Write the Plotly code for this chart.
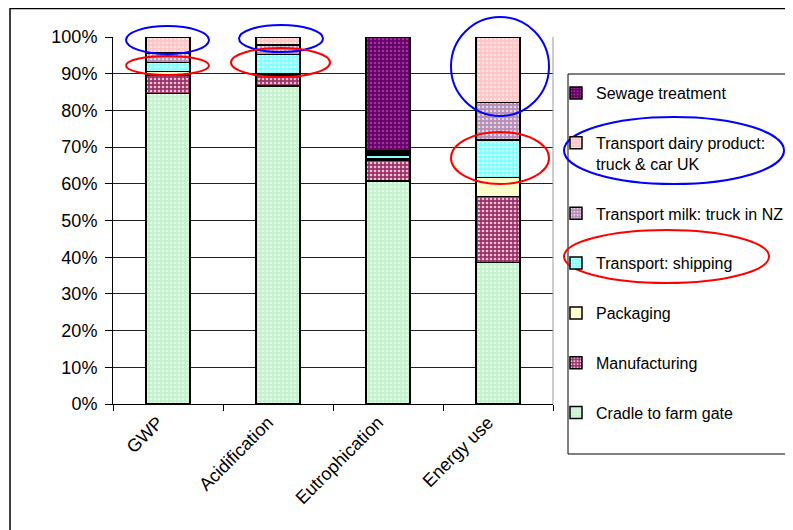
import plotly.graph_objects as go

categories = ["GWP", "Acidification", "Eutrophication", "Energy use"]

series_names = [
    "Cradle to farm gate",
    "Manufacturing",
    "Packaging",
    "Transport: shipping",
    "Transport milk: truck in NZ",
    "Transport dairy product:<br>truck & car UK",
    "Sewage treatment",
]

cradle = [84.6, 86.6, 60.8, 38.6]
manufacturing = [5.0, 3.0, 5.5, 17.9]
packaging = [1.0, 0.3, 0.4, 5.2]
shipping = [2.4, 5.4, 1.1, 10.2]
milk_nz = [2.6, 2.5, 0.6, 10.2]
dairy_uk = [4.4, 2.2, 0.5, 17.9]
sewage = [0.0, 0.0, 31.1, 0.0]

series_values = [cradle, manufacturing, packaging, shipping, milk_nz, dairy_uk, sewage]

bg_colors = ["#C4F2CC", "#993366", "#FFFFCC", "#80FFFF", "#B48CB4", "#FFC4C4", "#660066"]
fg_colors = ["#E4FAE8", "#F0C0D8", "#FFFFCC", "#D0FFFF", "#E4D4E4", "#FFE4E4", "#993399"]

# page is offset by the 8px body margin of the browser
OFF = 8
W, H = 793 - OFF, 530 - OFF
L, R, T, B = 113 - OFF, 553 - OFF, 37 - OFF, 404 - OFF


def px(x):
    return (x - OFF - L) / (R - L)


def py(y):
    return (B - (y - OFF)) / (B - T)


fig = go.Figure()
n = len(series_names)
for i, (name, vals) in enumerate(zip(series_names, series_values)):
    fig.add_trace(go.Bar(
        x=categories, y=vals, name=name,
        legendgroup=str(i),
        legendrank=100 + (n - i),
        marker=dict(
            color=bg_colors[i],
            line=dict(color="black", width=1.5),
            pattern=dict(shape=".", bgcolor=bg_colors[i], fgcolor=fg_colors[i],
                         size=4, solidity=0.35, fillmode="replace"),
        ),
    ))

font = "Arial, Liberation Sans, sans-serif"

shapes = []
# outer chart frame
shapes.append(dict(type="rect", xref="paper", yref="paper",
                   x0=px(10), x1=px(810), y0=py(560), y1=py(8.6),
                   line=dict(color="black", width=1.5)))
# legend frame
shapes.append(dict(type="rect", xref="paper", yref="paper",
                   x0=px(568), x1=px(810), y0=py(454), y1=py(74),
                   line=dict(color="black", width=1)))
# right edge of plot area
shapes.append(dict(type="line", xref="paper", yref="paper",
                   x0=1, x1=1, y0=0, y1=1, line=dict(color="#999999", width=1)))

# highlight ellipses (annotations)
ellipses = [
    ("blue", 126, 209, 26, 54),
    ("red", 126, 209, 56, 75),
    ("blue", 239, 323, 25, 52),
    ("red", 231, 330, 48, 77),
    ("blue", 451, 549, 17, 116),
    ("red", 451, 549, 132, 184),
    ("blue", 564, 784, 117, 184),
    ("red", 564, 769, 230, 283),
]
for c, x0, x1, y0, y1 in ellipses:
    shapes.append(dict(type="circle", xref="paper", yref="paper",
                       x0=px(x0), x1=px(x1), y0=py(y1), y1=py(y0),
                       line=dict(color="#0000FF" if c == "blue" else "#FF0000", width=2)))

fig.update_layout(
    width=W, height=H,
    barmode="stack",
    bargap=0.6,
    paper_bgcolor="white",
    plot_bgcolor="white",
    font=dict(family=font, size=16, color="black"),
    margin=dict(l=L, r=W - R, t=T, b=H - B, autoexpand=False),
    showlegend=True,
    legend=dict(
        x=px(556), xanchor="left",
        y=py(76), yanchor="top",
        traceorder="grouped",
        tracegroupgap=26,
        valign="top",
        bgcolor="rgba(0,0,0,0)",
        borderwidth=0,
        font=dict(family=font, size=16, color="black"),
    ),
    xaxis=dict(
        tickangle=-45,
        ticks="outside", tickson="boundaries", ticklen=6, tickcolor="black",
        showline=True, linecolor="black", linewidth=1,
        tickfont=dict(family=font, size=18, color="black"),
        ticklabelshift=-10,
        showgrid=False,
    ),
    yaxis=dict(
        range=[0, 100], dtick=10, ticksuffix="%",
        ticks="outside", ticklen=7, tickcolor="black",
        ticklabelstandoff=4,
        showline=True, linecolor="black", linewidth=1,
        showgrid=True, gridcolor="#222222", gridwidth=1,
        tickfont=dict(family=font, size=18, color="black"),
        zeroline=False,
    ),
    shapes=shapes,
)

fig.write_html("out.html")
